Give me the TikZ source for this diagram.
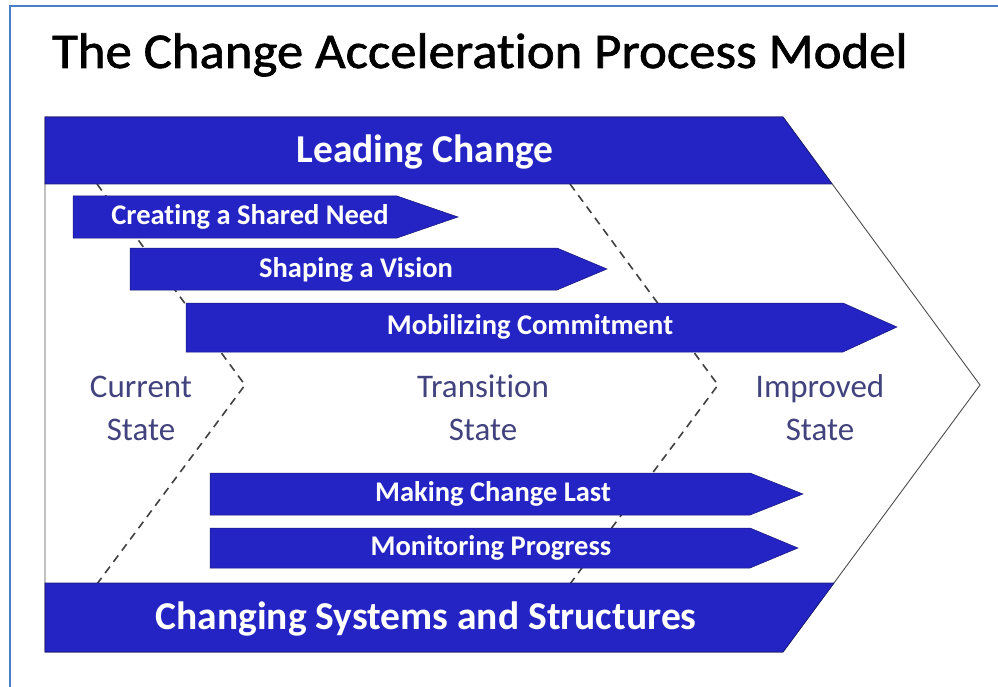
\documentclass[tikz,border=0pt]{standalone}
\usepackage{fontspec}
\setmainfont{Carlito}[Ligatures=NoCommon]
\newfontfamily\headfont{Carlito}[Ligatures=NoCommon, FakeBold=1.3]
\usepackage{xcolor}

\definecolor{capblue}{RGB}{36,36,196}
\definecolor{capedge}{RGB}{22,22,120}
\definecolor{slatetext}{RGB}{66,66,126}
\definecolor{frameblue}{RGB}{74,126,200}

\begin{document}
\begin{tikzpicture}[
    x=1pt, y=-1pt,
    band/.style={fill=capblue, draw=capedge, line width=0.6pt},
    bar/.style={fill=capblue, draw=capedge, line width=0.5pt},
    outline/.style={draw=black!70, line width=0.9pt},
    phase/.style={draw=black!75, dash pattern=on 8pt off 6pt, line width=1.6pt},
    bandtext/.style={text=white, inner sep=0pt, font=\fontsize{39.5}{47}\selectfont\bfseries},
    bartext/.style={text=white, inner sep=0pt, font=\fontsize{28.5}{34}\selectfont\bfseries},
    statelbl/.style={text=slatetext, inner sep=0pt, align=center,
                     font=\fontsize{33}{43}\selectfont}
]
\useasboundingbox (0,0) rectangle (998,687);

% page frame
\draw[frameblue, line width=2.5pt] (10,700) -- (10,6) -- (1010,6);

\node[anchor=base west, inner sep=0pt, font=\headfont\fontsize{50}{58}\selectfont] (title)
    at (52,68) {\scalebox{1.055}[1]{The Change Acceleration Process Model}};

% phase borders
\draw[phase] (97,184) -- (245,385) -- (97,584);
\draw[phase] (570,184) -- (718,385) -- (570,584);

% big chevron
\draw[outline] (45,117) -- (783,117) -- (980,385) -- (783,652) -- (45,652) -- cycle;

% top and bottom bands
\draw[band] (45,117) -- (783,117) -- (832,184) -- (45,184) -- cycle;
\draw[band] (45,583) -- (834,583) -- (783,652) -- (45,652) -- cycle;

% arrows
\draw[bar] (73,196) -- (397,196) -- (458,217) -- (397,238) -- (73,238) -- cycle;
\draw[bar] (130,248) -- (557,248) -- (607,269) -- (557,290) -- (130,290) -- cycle;
\draw[bar] (186,303) -- (843,303) -- (897,327) -- (843,352) -- (186,352) -- cycle;
\draw[bar] (210,473) -- (750,473) -- (803,494) -- (750,515) -- (210,515) -- cycle;
\draw[bar] (210,528) -- (750,528) -- (798,548) -- (750,568) -- (210,568) -- cycle;

\node[bandtext] (lead) at (425,152) {Leading Change};
\node[bandtext] (systems) at (426,619) {Changing Systems and Structures};

\node[bartext] (need) at (250,217) {Creating a Shared Need};
\node[bartext] (vision) at (356,270) {Shaping a Vision};
\node[bartext] (commit) at (530,327) {Mobilizing Commitment};
\node[bartext] (last) at (493,494) {Making Change Last};
\node[bartext] (progress) at (491,548) {Monitoring Progress};

\node[statelbl] (current) at (141,408) {Current\\State};
\node[statelbl] (transition) at (483,408) {Transition\\State};
\node[statelbl] (improved) at (820,408) {Improved\\State};

\end{tikzpicture}
\end{document}
